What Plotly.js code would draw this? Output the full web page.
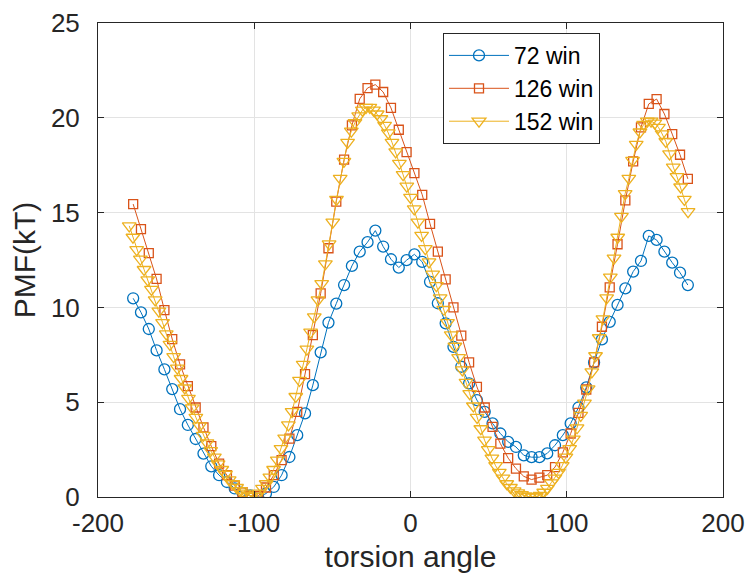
<!DOCTYPE html>
<html>
<head>
<meta charset="utf-8">
<script src="https://cdn.plot.ly/plotly-3.0.1.min.js"></script>
<style>html,body{margin:0;padding:0;background:#fff;}#chart{width:745px;height:578px;}</style>
</head>
<body>
<div id="chart"></div>
<script>
// window centres (degrees) for the 72- and 126-window curves as plotted
const angles5 = [-177.5,-172.5,-167.5,-162.5,-157.5,-152.5,-147.5,-142.5,-137.5,-132.5,-127.5,-122.5,-117.5,-112.5,-107.5,-102.5,-97.5,-92.5,-87.5,-82.5,-77.5,-72.5,-67.5,-62.5,-57.5,-52.5,-47.5,-42.5,-37.5,-32.5,-27.5,-22.5,-17.5,-12.5,-7.5,-2.5,2.5,7.5,12.5,17.5,22.5,27.5,32.5,37.5,42.5,47.5,52.5,57.5,62.5,67.5,72.5,77.5,82.5,87.5,92.5,97.5,102.5,107.5,112.5,117.5,122.5,127.5,132.5,137.5,142.5,147.5,152.5,157.5,162.5,167.5,172.5,177.5];

const pmf72 = [10.48,9.74,8.86,7.73,6.73,5.69,4.63,3.80,3.06,2.29,1.62,1.15,0.79,0.45,0.22,0.08,0.0,0.18,0.53,1.15,2.11,3.26,4.41,5.90,7.63,9.2,10.2,11.18,12.19,12.94,13.44,14.05,13.21,12.54,12.10,12.49,12.8,12.4,11.35,10.22,9.16,7.92,6.87,5.99,5.11,4.49,3.88,3.35,2.91,2.64,2.2,2.1,2.1,2.3,2.73,3.26,3.88,4.72,5.78,7.1,8.31,9.24,10.13,11.0,11.89,12.45,13.77,13.56,12.94,12.36,11.83,11.18];

const pmf126 = [15.45,14.13,12.86,11.5,9.86,8.33,6.99,5.85,4.72,3.67,2.68,1.76,1.15,0.6,0.25,0.05,0.05,0.5,1.15,1.95,3.08,4.49,6.48,8.54,10.74,13.12,15.58,17.79,19.6,21.0,21.57,21.75,21.36,20.52,19.37,18.19,17.08,15.94,14.41,12.94,11.48,10.0,8.51,7.1,5.81,4.72,3.7,2.82,2.05,1.5,1.09,0.92,1.02,1.15,1.58,2.35,3.35,4.44,5.67,7.1,8.98,11.06,13.33,15.64,17.7,19.5,20.73,20.99,20.2,19.14,18.05,16.78];

// 152-window curve
const angles152 = [-180.00,-177.63,-175.26,-172.89,-170.53,-168.16,-165.79,-163.42,-161.05,-158.68,-156.32,-153.95,-151.58,-149.21,-146.84,-144.47,-142.11,-139.74,-137.37,-135.00,-132.63,-130.26,-127.89,-125.53,-123.16,-120.79,-118.42,-116.05,-113.68,-111.32,-108.95,-106.58,-104.21,-101.84,-99.47,-97.11,-94.74,-92.37,-90.00,-87.63,-85.26,-82.89,-80.53,-78.16,-75.79,-73.42,-71.05,-68.68,-66.32,-63.95,-61.58,-59.21,-56.84,-54.47,-52.11,-49.74,-47.37,-45.00,-42.63,-40.26,-37.89,-35.53,-33.16,-30.79,-28.42,-26.05,-23.68,-21.32,-18.95,-16.58,-14.21,-11.84,-9.47,-7.11,-4.74,-2.37,0.00,2.37,4.74,7.11,9.47,11.84,14.21,16.58,18.95,21.32,23.68,26.05,28.42,30.79,33.16,35.53,37.89,40.26,42.63,45.00,47.37,49.74,52.11,54.47,56.84,59.21,61.58,63.95,66.32,68.68,71.05,73.42,75.79,78.16,80.53,82.89,85.26,87.63,90.00,92.37,94.74,97.11,99.47,101.84,104.21,106.58,108.95,111.32,113.68,116.05,118.42,120.79,123.16,125.53,127.89,130.26,132.63,135.00,137.37,139.74,142.11,144.47,146.84,149.21,151.58,153.95,156.32,158.68,161.05,163.42,165.79,168.16,170.53,172.89,175.26,177.63];

const pmf152 = [14.3,13.7,13.05,12.55,12.0,11.45,10.95,10.4,9.8,9.2,8.6,8.05,7.4,6.8,6.25,5.75,5.2,4.7,4.2,3.75,3.25,2.85,2.45,2.1,1.75,1.45,1.2,0.9,0.7,0.5,0.33,0.2,0.1,0.04,0.03,0.2,0.45,0.7,1.05,1.45,1.95,2.55,3.1,3.8,4.5,5.3,6.15,7.0,7.8,8.7,9.5,10.4,11.25,12.3,13.35,14.5,15.7,16.8,17.7,18.7,19.3,19.75,20.1,20.4,20.55,20.55,20.4,20.2,19.95,19.6,19.2,18.7,18.2,17.6,17.0,16.4,15.8,15.2,14.5,13.8,13.1,12.4,11.75,11.15,10.5,9.9,9.2,8.55,7.95,7.35,6.7,6.05,5.45,4.8,4.2,3.6,3.0,2.5,2.05,1.65,1.3,1.0,0.7,0.5,0.32,0.22,0.12,0.06,0.02,0.0,0.02,0.08,0.25,0.45,0.75,1.0,1.3,1.65,2.1,2.55,3.05,3.65,4.3,4.95,5.7,6.6,7.45,8.4,9.4,10.5,11.6,12.6,13.7,14.8,16.0,16.8,17.75,18.6,19.25,19.65,19.82,19.82,19.72,19.5,19.15,18.75,18.1,17.4,16.9,16.35,15.7,15.05];

const seriesNames = ['72 win','126 win','152 win'];
const xTicks = [-200,-100,0,100,200];
const yTicks = [0,5,10,15,20,25];

const FONT = '"Liberation Sans", Arial, Helvetica, sans-serif';
const traces = [
  {x: angles5, y: pmf72, name: seriesNames[0], mode: 'lines+markers', type: 'scatter',
   line: {color: '#0072BD', width: 1},
   marker: {symbol: 'circle-open', size: 11, color: '#0072BD', line: {width: 1.3, color: '#0072BD'}}},
  {x: angles5, y: pmf126, name: seriesNames[1], mode: 'lines+markers', type: 'scatter',
   line: {color: '#D95319', width: 1},
   marker: {symbol: 'square-open', size: 9, color: '#D95319', line: {width: 1.3, color: '#D95319'}}},
  {x: angles152, y: pmf152, name: seriesNames[2], mode: 'lines+markers', type: 'scatter',
   line: {color: '#EDB120', width: 1},
   marker: {symbol: 'triangle-down-open', size: 12, color: '#EDB120', line: {width: 1.3, color: '#EDB120'}}}
];

const axisCommon = {
  showline: true, mirror: 'ticks', linecolor: '#262626', linewidth: 1,
  ticks: 'inside', ticklen: 6, tickcolor: '#262626', tickwidth: 1,
  showgrid: true, gridcolor: '#e3e3e3', gridwidth: 1, zeroline: false,
  tickfont: {family: FONT, size: 26, color: '#262626'}
};

const layout = {
  width: 745, height: 578,
  margin: {l: 98, r: 22, t: 23, b: 81, pad: 0},
  paper_bgcolor: '#ffffff', plot_bgcolor: '#ffffff',
  font: {family: FONT, color: '#262626'},
  xaxis: Object.assign({}, axisCommon, {
    range: [-200, 200], tickmode: 'array', tickvals: xTicks, ticktext: xTicks.map(String),
    ticklabelstandoff: 3,
    title: {text: 'torsion angle', font: {family: FONT, size: 30, color: '#262626'}, standoff: 8}
  }),
  yaxis: Object.assign({}, axisCommon, {
    range: [0, 25], tickmode: 'array', tickvals: yTicks, ticktext: yTicks.map(String),
    ticklabelstandoff: 12,
    title: {text: 'PMF(kT)', font: {family: FONT, size: 30, color: '#262626'}, standoff: 6}
  }),
  showlegend: true,
  legend: {x: 0.552, y: 0.979, xanchor: 'left', yanchor: 'top',
    bgcolor: '#ffffff', bordercolor: '#262626', borderwidth: 1,
    font: {family: FONT, size: 23, color: '#000000'}, tracegroupgap: 0, itemwidth: 60}
};

Plotly.newPlot('chart', traces, layout, {displayModeBar: false, staticPlot: true});
</script>
</body>
</html>
